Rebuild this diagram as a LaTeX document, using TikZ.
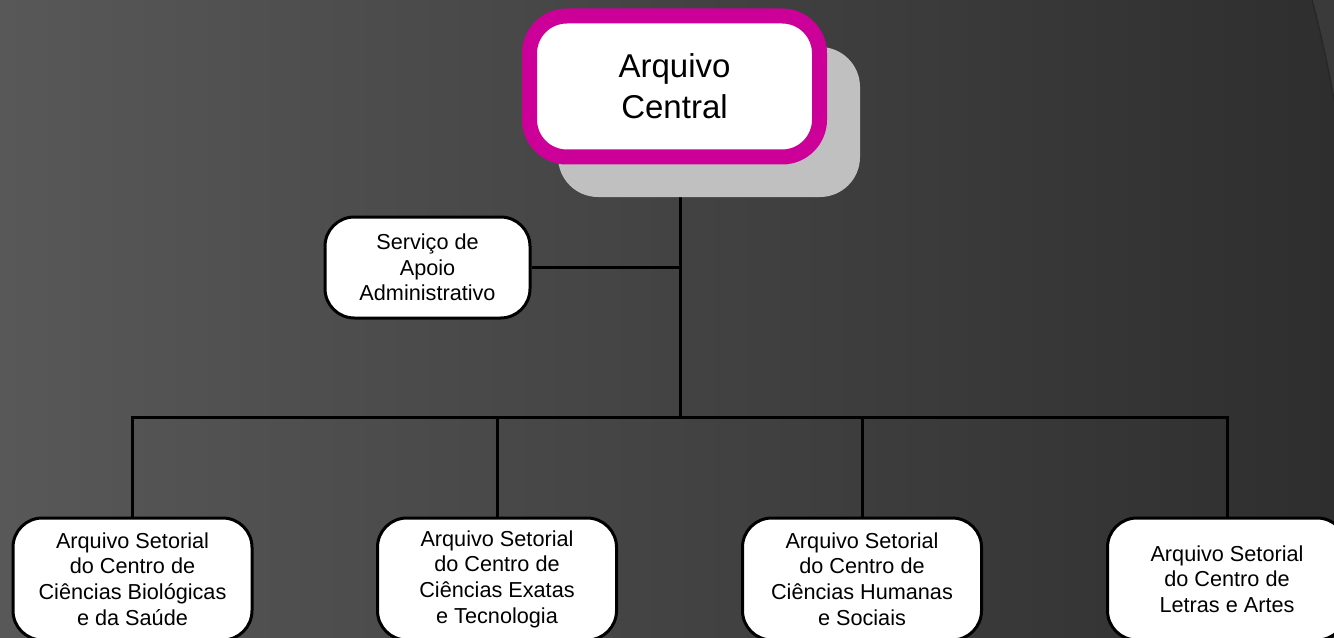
\documentclass[tikz,border=0pt]{standalone}
\usepackage{fontspec}
\setmainfont{Liberation Sans}
\pgfdeclarelayer{bg}
\pgfdeclarelayer{edges}
\pgfsetlayers{bg,edges,main}
\definecolor{bgL}{HTML}{585858}
\definecolor{bgR}{HTML}{2E2E2E}
\definecolor{magenta}{HTML}{CC0099}
\definecolor{shadowgray}{HTML}{C0C0C0}
\definecolor{cornerlight}{HTML}{3A3A3A}
\definecolor{cornerdark}{HTML}{272727}
\tikzset{
  px/.style={x=0.75pt,y=-0.75pt},
  conn/.style={draw=black,line width=2.25pt},
  centralbox/.style={draw=magenta,line width=11.25pt,fill=white,rounded corners=28pt,
    minimum width=217.5pt,minimum height=105.75pt,align=center,
    font=\fontsize{24.75pt}{30.75pt}\selectfont},
  shadowbox/.style={fill=shadowgray,rounded corners=30pt,minimum width=226.5pt,minimum height=112.5pt},
  unitbox/.style={draw=black,line width=2.25pt,fill=white,rounded corners=22pt,align=center,
    font=\fontsize{16.25pt}{19.25pt}\selectfont},
  smallbox/.style={unitbox,minimum width=153.75pt,minimum height=75.75pt},
  sectorbox/.style={unitbox,minimum width=179.25pt,minimum height=91.5pt}
}
\begin{document}
\begin{tikzpicture}[px]
\useasboundingbox (0,0) rectangle (1334,638);
\begin{pgfonlayer}{bg}
\shade[left color=bgL,right color=bgR] (0,0) rectangle (1334,638);
\fill[cornerlight] (1312,0) .. controls (1320,30) and (1328,65) .. (1334,100) -- (1334,0) -- cycle;
\draw[cornerdark,line width=1pt] (1312,0) .. controls (1320,30) and (1328,65) .. (1334,100);
\end{pgfonlayer}

\node[shadowbox] (shadow) at (709,122) {};
\node[centralbox] (ac) at (674.5,86.5) {Arquivo\\Central};
\node[smallbox] (sa) at (427.5,267.5) {Serviço de\\Apoio\\Administrativo};
\node[sectorbox] (b1) at (132.5,579) {Arquivo Setorial\\do Centro de\\Ciências Biológicas\\e da Saúde};
\node[sectorbox] (b2) at (497,579) {Arquivo Setorial\\do Centro de\\Ciências Exatas\\e Tecnologia};
\node[sectorbox] (b3) at (862,579) {Arquivo Setorial\\do Centro de\\Ciências Humanas\\e Sociais};
\node[sectorbox] (b4) at (1227,579) {Arquivo Setorial\\do Centro de\\Letras e Artes};
\coordinate (bus) at (680,417);

\begin{pgfonlayer}{edges}
\draw[conn] (ac.center -| bus) -- (bus);
\draw[conn] (sa.east) -- (sa.east -| bus);
\draw[conn] (b1.north) |- (bus) -| (b4.north);
\draw[conn] (b2.north) -- (b2.north |- bus);
\draw[conn] (b3.north) -- (b3.north |- bus);
\end{pgfonlayer}
\end{tikzpicture}
\end{document}
